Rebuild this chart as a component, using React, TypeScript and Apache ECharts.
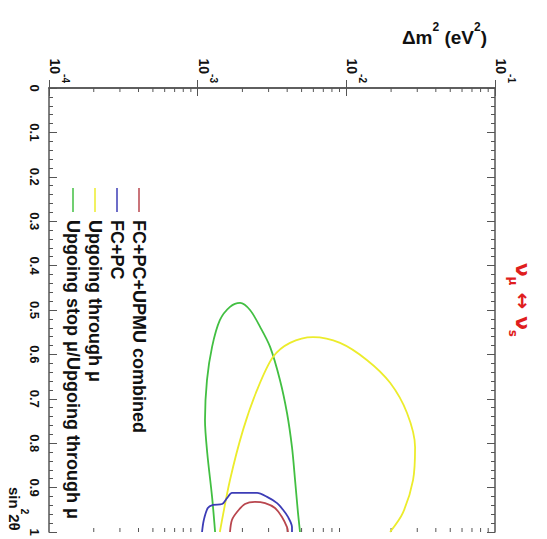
import React, { useEffect, useRef } from "react";
import * as echarts from "echarts";

// Series names / colours (legend order, top entry first)
const seriesNames = [
  "FC+PC+UPMU combined",
  "FC+PC",
  "Upgoing through μ",
  "Upgoing stop μ/Upgoing through μ",
];
const seriesColors = ["#b9464e", "#3c3cb6", "#ecec2c", "#42bf42"];

// Contours: [Δm² (eV²), sin²2θ]
const combined: [number, number][] = [
  [1.65e-3, 1.0], [1.70e-3, 0.973], [1.84e-3, 0.955], [2.08e-3, 0.937], [2.43e-3, 0.932],
  [2.84e-3, 0.935], [3.31e-3, 0.946], [3.69e-3, 0.966], [3.99e-3, 0.989], [4.05e-3, 1.0],
];
const fcpc: [number, number][] = [
  [1.07e-3, 1.0], [1.10e-3, 0.973], [1.17e-3, 0.946], [1.27e-3, 0.939], [1.46e-3, 0.937],
  [1.58e-3, 0.923], [1.70e-3, 0.912], [1.99e-3, 0.912], [2.51e-3, 0.912], [2.93e-3, 0.921],
  [3.42e-3, 0.935], [3.75e-3, 0.95], [4.05e-3, 0.966], [4.31e-3, 0.989], [4.31e-3, 1.0],
];
const throughMu: [number, number][] = [
  [1.41e-3, 1.0], [1.65e-3, 0.883], [2.02e-3, 0.77], [2.51e-3, 0.68], [3.21e-3, 0.606],
  [4.18e-3, 0.574], [5.97e-3, 0.561], [9.07e-3, 0.574], [1.38e-2, 0.613], [1.97e-2, 0.664],
  [2.56e-2, 0.732], [2.90e-2, 0.809], [2.81e-2, 0.883], [2.40e-2, 0.957], [1.97e-2, 1.0],
];
const stopThrough: [number, number][] = [
  [1.31e-3, 1.0], [1.25e-3, 0.921], [1.16e-3, 0.822], [1.12e-3, 0.748], [1.155e-3, 0.658],
  [1.25e-3, 0.583], [1.41e-3, 0.523], [1.65e-3, 0.493], [1.93e-3, 0.484], [2.25e-3, 0.5],
  [2.63e-3, 0.538], [3.07e-3, 0.583], [3.58e-3, 0.658], [3.99e-3, 0.732], [4.31e-3, 0.809],
  [4.52e-3, 0.883], [4.73e-3, 0.957], [4.88e-3, 1.0],
];
const seriesData = [combined, fcpc, throughMu, stopThrough];

// Axis ranges
const dmMin = 1e-4;
const dmMax = 1e-1;
const sinMin = 0;
const sinMax = 1;
// log minor tick mantissas and decades
const minorMantissas = [2, 3, 4, 5, 6, 7, 8, 9];
const decades = [1e-4, 1e-3, 1e-2];

const axisColor = "#555";
const textColor = "#111";
const redText = "#e01e1e";
const fontFamily = "Liberation Sans, Arial, sans-serif";

export default function App() {
  const ref = useRef<HTMLDivElement>(null);
  useEffect(() => {
    if (!ref.current) return;
    const chart = echarts.init(ref.current, undefined, { renderer: "svg" });
    const minorTicks: [number, number][] = [];
    decades.forEach((d) => minorMantissas.forEach((m) => minorTicks.push([m * d, 0])));

    const lineSeries = seriesNames.map((name, i) => ({
      name,
      type: "line",
      data: seriesData[i],
      xAxisIndex: 0,
      yAxisIndex: 0,
      symbol: "none",
      smooth: 0.3,
      lineStyle: { color: seriesColors[i], width: 1.8 },
      itemStyle: { color: seriesColors[i] },
      z: 10 - i,
    }));

    const legendGraphics: any[] = [];
    seriesNames.forEach((name, i) => {
      const x = 139 - i * 22;
      legendGraphics.push({
        type: "line",
        shape: { x1: x, y1: 188, x2: x, y2: 212 },
        style: { stroke: seriesColors[i], lineWidth: 1.5 },
      });
      legendGraphics.push({
        type: "text",
        x: x,
        y: 220,
        rotation: -Math.PI / 2,
        style: {
          text: name,
          fill: textColor,
          font: `bold 18px ${fontFamily}`,
          align: "left",
          verticalAlign: "middle",
        },
      });
    });

    const option: any = {
      animation: false,
      backgroundColor: "#fff",
      grid: { left: 49, right: 52, top: 88, bottom: 7 },
      xAxis: [
        {
          type: "log",
          logBase: 10,
          min: dmMin,
          max: dmMax,
          position: "top",
          splitLine: { show: false },
          axisLine: { lineStyle: { color: axisColor, width: 1.5 } },
          axisTick: { inside: true, length: 8, lineStyle: { color: axisColor, width: 1 } },
          axisLabel: {
            rotate: -90,
            margin: 5,
            padding: [0, 0, 12, 0],
            formatter: (v: number) => `{b|10}{e|${Math.round(Math.log10(v))}}`,
            rich: {
              b: { fontSize: 14, fontWeight: "bold", fontFamily, color: textColor, lineHeight: 30, verticalAlign: "middle" },
              e: { fontSize: 10, fontWeight: "bold", fontFamily, color: textColor, lineHeight: 30, verticalAlign: "top" },
            },
          },
        },
        {
          type: "log",
          logBase: 10,
          min: dmMin,
          max: dmMax,
          position: "bottom",
          splitLine: { show: false },
          axisLine: { lineStyle: { color: axisColor, width: 1.5 } },
          axisTick: { inside: true, length: 8, lineStyle: { color: axisColor, width: 1 } },
          axisLabel: { show: false },
        },
      ],
      yAxis: [
        {
          type: "value",
          min: sinMin,
          max: sinMax,
          interval: 0.1,
          inverse: true,
          position: "left",
          splitLine: { show: false },
          axisLine: { lineStyle: { color: axisColor, width: 1.5 } },
          axisTick: { inside: true, length: 8, lineStyle: { color: axisColor, width: 1 } },
          minorTick: { show: true, splitNumber: 5, length: 4, lineStyle: { color: axisColor, width: 1 } },
          axisLabel: {
            rotate: -90,
            margin: 8,
            fontSize: 13,
            fontWeight: "bold",
            fontFamily,
            color: textColor,
          },
        },
        {
          type: "value",
          min: sinMin,
          max: sinMax,
          interval: 0.1,
          inverse: true,
          position: "right",
          splitLine: { show: false },
          axisLine: { lineStyle: { color: axisColor, width: 1.5 } },
          axisTick: { inside: true, length: 8, lineStyle: { color: axisColor, width: 1 } },
          minorTick: { show: true, splitNumber: 5, length: 4, lineStyle: { color: axisColor, width: 1 } },
          axisLabel: { show: false },
        },
      ],
      series: [
        ...lineSeries,
        {
          type: "custom",
          xAxisIndex: 0,
          yAxisIndex: 0,
          data: minorTicks,
          silent: true,
          clip: false,
          renderItem: (_p: any, api: any) => {
            const v = api.value(0);
            const top = api.coord([v, sinMin]);
            const bot = api.coord([v, sinMax]);
            return {
              type: "group",
              children: [
                { type: "line", shape: { x1: top[0], y1: top[1], x2: top[0], y2: top[1] + 4 }, style: { stroke: axisColor, lineWidth: 1 } },
                { type: "line", shape: { x1: bot[0], y1: bot[1], x2: bot[0], y2: bot[1] - 4 }, style: { stroke: axisColor, lineWidth: 1 } },
              ],
            };
          },
        },
      ],
      graphic: [
        {
          type: "text",
          x: 487,
          y: 34,
          style: {
            text: "{a|Δm}{s|2}{a| (eV}{s|2}{a|)}",
            align: "right",
            verticalAlign: "middle",
            fill: textColor,
            rich: {
              a: { fontSize: 19, fontWeight: "bold", fontFamily, fill: textColor, lineHeight: 26, verticalAlign: "bottom" },
              s: { fontSize: 12, fontWeight: "bold", fontFamily, fill: textColor, lineHeight: 26, verticalAlign: "top" },
            },
          },
        },
        {
          type: "text",
          x: 18,
          y: 487,
          rotation: -Math.PI / 2,
          style: {
            text: "{a|sin}{s|2}{a|2θ}",
            align: "left",
            verticalAlign: "middle",
            fill: textColor,
            rich: {
              a: { fontSize: 15, fontWeight: "bold", fontFamily, fill: textColor, lineHeight: 22, verticalAlign: "bottom" },
              s: { fontSize: 10, fontWeight: "bold", fontFamily, fill: textColor, lineHeight: 22, verticalAlign: "top" },
            },
          },
        },
        {
          type: "text",
          x: 520,
          y: 263,
          rotation: -Math.PI / 2,
          style: {
            text: "{a|ν}{s|μ}{a| ↔ ν}{s|s}",
            align: "left",
            verticalAlign: "middle",
            fill: redText,
            rich: {
              a: { fontSize: 20, fontWeight: "bold", fontFamily: "DejaVu Sans, sans-serif", fill: redText, lineHeight: 26, verticalAlign: "top" },
              s: { fontSize: 12, fontWeight: "bold", fontFamily: "DejaVu Sans, sans-serif", fill: redText, lineHeight: 26, verticalAlign: "bottom" },
            },
          },
        },
        ...legendGraphics,
      ],
    };
    chart.setOption(option);
    return () => chart.dispose();
  }, []);
  return (
    <div
      ref={ref}
      style={{ position: "absolute", left: 0, top: 0, width: 547, height: 539 }}
    />
  );
}
